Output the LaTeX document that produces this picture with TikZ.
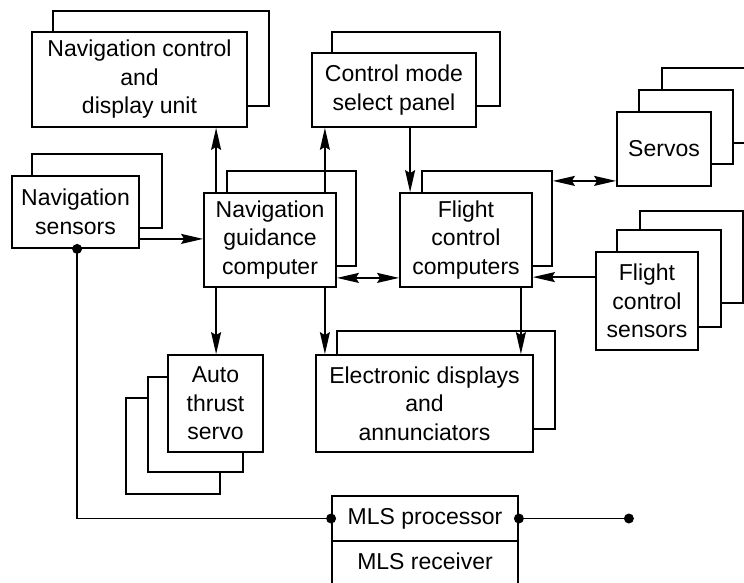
\documentclass[tikz,border=0pt]{standalone}
\usepackage{fontspec}
\setmainfont{Liberation Sans}
\usetikzlibrary{arrows.meta,calc}
\begin{document}
\begin{tikzpicture}[x=1pt,y=-1pt,
  box/.style={draw,line width=1.8pt,fill=white,align=center,inner sep=0pt,font=\fontsize{23}{28.5}\selectfont},
  bk/.style={draw,line width=1.8pt,fill=white,inner sep=0pt},
  conn/.style={line width=1.4pt},
  tip/.tip={Stealth[length=22pt,width=10pt,inset=3pt]},
  arr/.style={conn,-tip},
  dbl/.style={conn,tip-tip},
  dot/.style={circle,fill,inner sep=0pt,minimum size=10pt}
]
\useasboundingbox (0,0) rectangle (744,582);
\fill[white] (0,0) rectangle (744,582);
\clip (0,0) rectangle (744,582);

% Navigation control and display unit
\node[bk,minimum width=216pt,minimum height=95pt] (ncdb) at (161,58.5) {};
\node[box,minimum width=215pt,minimum height=95pt] (ncd) at (139.5,79.5) {Navigation control\\and\\display unit};

% Navigation sensors
\node[bk,minimum width=130pt,minimum height=74pt] (nsb) at (97,191) {};
\node[box,minimum width=127pt,minimum height=72pt] (ns) at (75.5,212) {Navigation\\sensors};

% Navigation guidance computer
\node[bk,minimum width=129pt,minimum height=95pt] (ngb) at (291.5,218.5) {};
\node[box,minimum width=132pt,minimum height=94pt] (ng) at (270,240) {Navigation\\guidance\\computer};

% Control mode select panel
\node[bk,minimum width=168pt,minimum height=74pt] (cmb) at (416,69) {};
\node[box,minimum width=164pt,minimum height=74pt] (cm) at (394,90) {Control mode\\select panel};

% Flight control computers
\node[bk,minimum width=130pt,minimum height=95pt] (fccb) at (487,218.5) {};
\node[box,minimum width=132pt,minimum height=94pt] (fcc) at (466,240) {Flight\\control\\computers};

% Servos
\node[bk,minimum width=94pt,minimum height=75pt] (svb2) at (709,105.5) {};
\node[bk,minimum width=94pt,minimum height=74pt] (svb1) at (686,127) {};
\node[box,minimum width=94pt,minimum height=74pt] (sv) at (664,149) {Servos};

% Flight control sensors
\node[bk,minimum width=103pt,minimum height=92pt] (fcsb2) at (691.5,257) {};
\node[bk,minimum width=104pt,minimum height=97pt] (fcsb1) at (669,278.5) {};
\node[box,minimum width=102pt,minimum height=98pt] (fcs) at (647,301) {Flight\\control\\sensors};

% Auto thrust servo
\node[bk,minimum width=94pt,minimum height=96pt] (atb2) at (173,446) {};
\node[bk,minimum width=95pt,minimum height=95pt] (atb1) at (195.5,424.5) {};
\node[box,minimum width=95pt,minimum height=97pt] (at) at (215.5,403.5) {Auto\\thrust\\servo};

% Electronic displays
\node[bk,minimum width=218pt,minimum height=98pt] (edb) at (446,380) {};
\node[box,minimum width=217pt,minimum height=97pt] (ed) at (424.5,403.5) {Electronic displays\\and\\annunciators};

% MLS
\node[box,minimum width=186pt,minimum height=45pt] (mlsp) at (425,518.5) {MLS processor};
\node[box,minimum width=186pt,minimum height=59pt] (mlsr) at (425,570.5) {};
\node[font=\fontsize{23}{28.5}\selectfont] (mlsrt) at (425,561) {MLS receiver};

% connector anchor points
\coordinate (c1) at ($(ns.south east)+(0,-10)$);
\coordinate (c2) at ($(ng.north west)+(13,0)$);
\coordinate (c3) at ($(ng.north east)+(-12,0)$);
\coordinate (c4) at ($(cm.south west)+(99,0)$);
\coordinate (c5) at ($(ng.south east)+(0,-10)$);
\coordinate (c6) at ($(sv.south west)+(0,-6)$);
\coordinate (c7) at ($(fcs.north west)+(0,26)$);
\coordinate (c8) at ($(ng.south west)+(13,0)$);
\coordinate (c9) at ($(ng.south east)+(-12,0)$);
\coordinate (c10) at ($(fcc.south east)+(-12,0)$);
\coordinate (d1) at ($(ns.south west)+(66,0)$);
\coordinate (d3) at ($(mlsp.east)+(110,0)$);

\draw[arr] (c1) -- (c1 -| ng.west);
\draw[arr] (c2) -- (c2 |- ncd.south);
\draw[arr] (c3) -- (c3 |- cm.south);
\draw[arr] (c4) -- (c4 |- fcc.north);
\draw[dbl] (c5) -- (c5 -| fcc.west);
\draw[dbl] (c6 -| fccb.east) -- (c6);
\draw[arr] (c7) -- (c7 -| fcc.east);
\draw[arr] (c8) -- (c8 |- at.north);
\draw[arr] (c9) -- (c9 |- ed.north);
\draw[arr] (c10) -- (c10 |- ed.north);

\draw[conn] (d1) |- (mlsp.west);
\draw[conn] (mlsp.east) -- (d3);
\node[dot] (dot1) at (d1) {};
\node[dot] (dot2) at (mlsp.west) {};
\node[dot] (dot3) at (mlsp.east) {};
\node[dot] (dot4) at (d3) {};
\end{tikzpicture}
\end{document}
